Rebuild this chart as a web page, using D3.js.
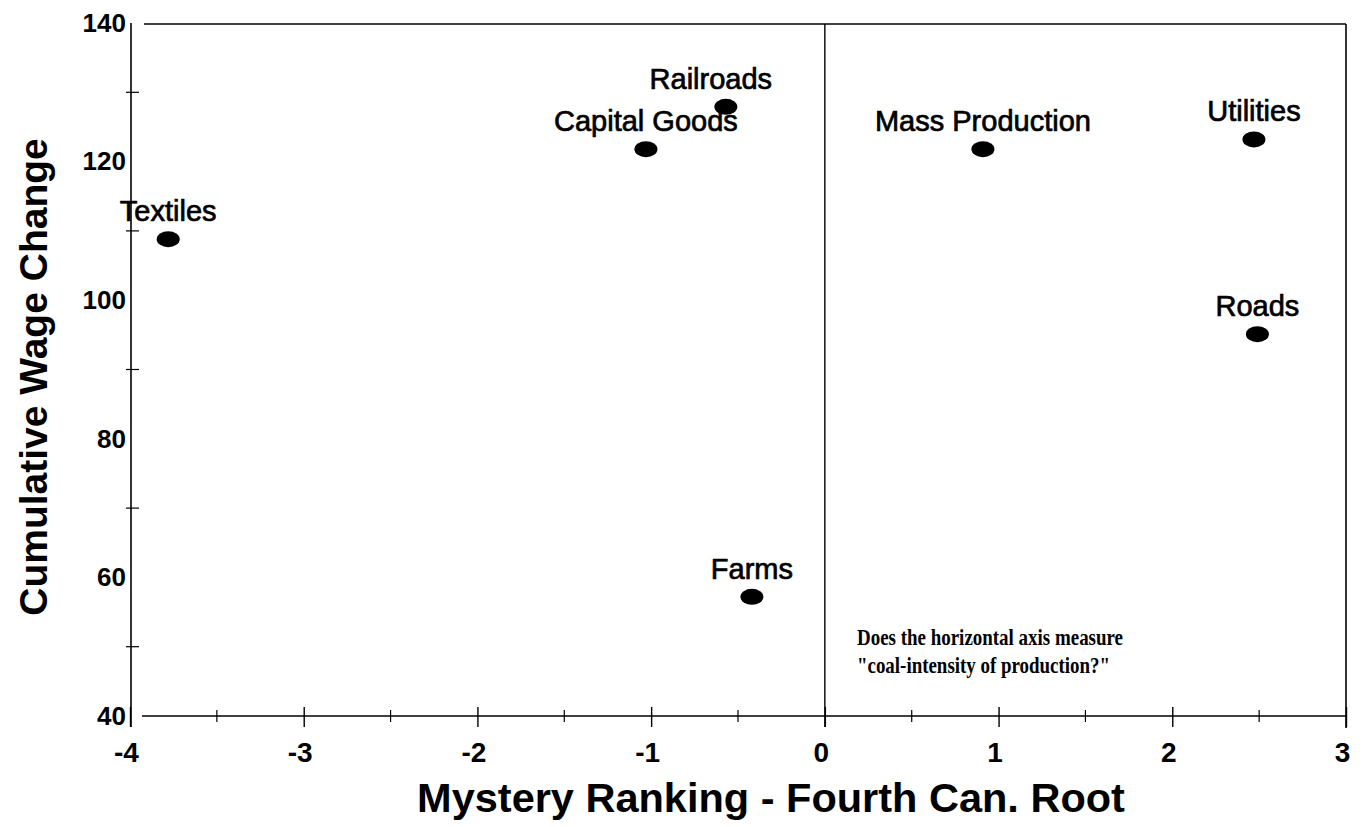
<!DOCTYPE html>
<html>
<head>
<meta charset="utf-8">
<script src="https://cdn.jsdelivr.net/npm/d3@7"></script>
<style>
  body { margin: 0; background: #fff; }
  svg { display: block; }
  text { font-family: "Liberation Sans", Arial, sans-serif; fill: #000; }
</style>
</head>
<body>
<div id="chart"></div>
<script>
// industries, x = mystery ranking, y = cumulative wage change
const industries = ['Textiles', 'Capital Goods', 'Railroads', 'Farms', 'Mass Production', 'Utilities', 'Roads'];
const rankings = [-3.78, -1.03, -0.57, -0.42, 0.91, 2.47, 2.49];
const wageChanges = [108.8, 121.8, 127.9, 57.2, 121.8, 123.2, 95.1];

const xTickLabels = [-4, -3, -2, -1, 0, 1, 2, 3];
const yTickLabels = [40, 60, 80, 100, 120, 140];
const xMinorTicks = d3.range(-3.5, 3, 1);
const yMinorTicks = [50, 70, 90, 110, 130];
const noteLines = ['Does the horizontal axis measure', '"coal-intensity of production?"'];

const width = 1366, height = 827;
const plotLeft = 130, plotRight = 1346, plotTop = 23, plotBottom = 716;

const svg = d3.select('#chart').append('svg')
  .attr('width', width)
  .attr('height', height);

const x = d3.scaleLinear().domain([-4, 3]).range([plotLeft, plotRight]);
const y = d3.scaleLinear().domain([40, 140]).range([plotBottom, plotTop]);

// frame lines
svg.append('line').attr('x1', plotLeft + 1).attr('x2', plotLeft + 1).attr('y1', plotTop).attr('y2', plotBottom + 11)
  .attr('stroke', '#000').attr('stroke-width', 1.6);
svg.append('line').attr('x1', plotLeft + 14).attr('x2', plotRight).attr('y1', plotTop + 1).attr('y2', plotTop + 1)
  .attr('stroke', '#000').attr('stroke-width', 1.6);
svg.append('line').attr('x1', plotRight).attr('x2', plotRight).attr('y1', plotTop + 1).attr('y2', plotBottom + 12)
  .attr('stroke', '#000').attr('stroke-width', 1.6);
svg.append('line').attr('x1', x(0)).attr('x2', x(0)).attr('y1', plotTop + 1).attr('y2', plotBottom + 11)
  .attr('stroke', '#000').attr('stroke-width', 1.4);

// x axis
const xAxis = svg.append('g')
  .attr('transform', 'translate(0,' + plotBottom + ')')
  .call(d3.axisBottom(x).tickValues(xTickLabels).tickSize(11).tickPadding(15).tickFormat(d => String(d)));
xAxis.select('.domain').remove();
xAxis.append('line').attr('x1', plotLeft + 12).attr('x2', plotRight).attr('y1', 0).attr('y2', 0)
  .attr('stroke', '#000').attr('stroke-width', 1.6);
xAxis.selectAll('.tick line').attr('y1', -9).attr('stroke-width', 1.4);
xAxis.selectAll('.tick text')
  .style('font-size', '28px').style('font-weight', 'bold').attr('dx', -4);
xAxis.selectAll('.minor').data(xMinorTicks).enter().append('line')
  .attr('x1', d => x(d)).attr('x2', d => x(d)).attr('y1', -6).attr('y2', 6)
  .attr('stroke', '#000').attr('stroke-width', 1.2);

// y axis
const yAxis = svg.append('g')
  .attr('transform', 'translate(' + plotLeft + ',0)')
  .call(d3.axisLeft(y).tickValues(yTickLabels).tickSize(0).tickPadding(4));
yAxis.select('.domain').remove();
yAxis.selectAll('.tick text')
  .style('font-size', '26px').style('font-weight', 'bold');
yAxis.selectAll('.minor').data(yMinorTicks).enter().append('line')
  .attr('x1', -4).attr('x2', 9).attr('y1', d => y(d)).attr('y2', d => y(d))
  .attr('stroke', '#000').attr('stroke-width', 1.2);

// points
const pts = svg.append('g');
pts.selectAll('ellipse').data(industries).enter().append('ellipse')
  .attr('cx', (d, i) => x(rankings[i]))
  .attr('cy', (d, i) => y(wageChanges[i]))
  .attr('rx', 11.5).attr('ry', 8)
  .attr('fill', '#000');

pts.selectAll('text').data(industries).enter().append('text')
  .attr('x', (d, i) => x(rankings[i]) + (d === 'Railroads' ? -15 : 0))
  .attr('y', (d, i) => y(wageChanges[i]) - 18)
  .attr('text-anchor', 'middle')
  .style('font-size', '29px')
  .style('stroke', '#000').style('stroke-width', 0.7)
  .text(d => d);

// axis titles
svg.append('text')
  .attr('x', 771).attr('y', 812)
  .attr('text-anchor', 'middle')
  .style('font-size', '41.5px').style('font-weight', 'bold')
  .text('Mystery Ranking - Fourth Can. Root');

svg.append('text')
  .attr('transform', 'translate(47,377) rotate(-90)')
  .attr('text-anchor', 'middle')
  .style('font-size', '39px').style('font-weight', 'bold')
  .text('Cumulative Wage Change');

// note
const noteWidths = [266, 253];
svg.append('g').selectAll('text').data(noteLines).enter().append('text')
  .attr('x', 857).attr('y', (d, i) => 645 + i * 28)
  .attr('textLength', (d, i) => noteWidths[i])
  .attr('lengthAdjust', 'spacingAndGlyphs')
  .style('font-family', '"Liberation Serif", "Times New Roman", serif')
  .style('font-size', '24px').style('font-weight', 'bold')
  .text(d => d);
</script>
</body>
</html>
